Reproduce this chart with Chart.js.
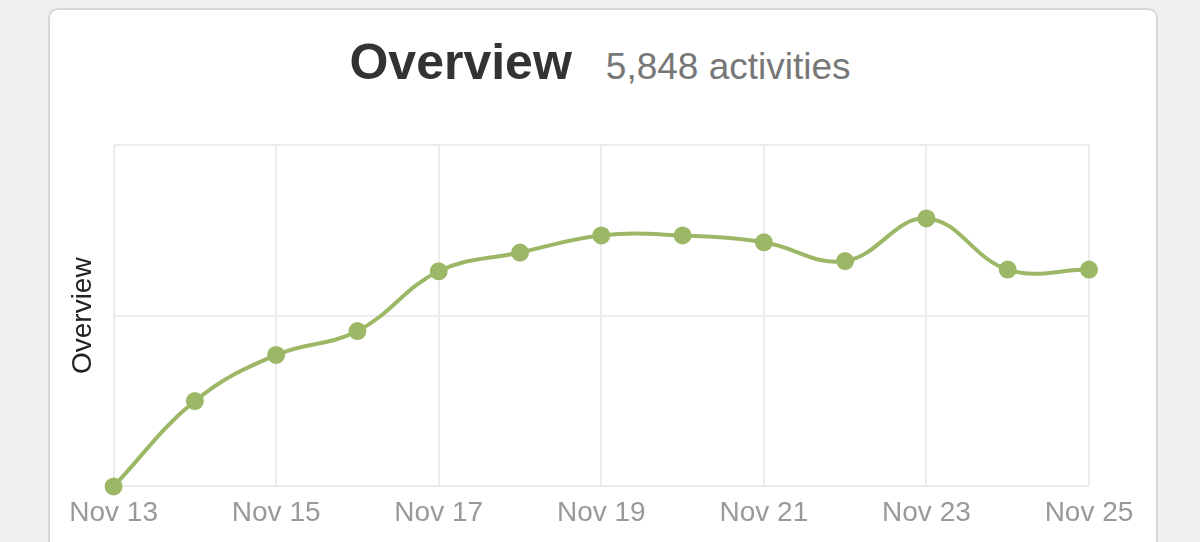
<!DOCTYPE html>
<html><head><meta charset="utf-8">
<script src="https://cdn.jsdelivr.net/npm/chart.js@4"></script>
<style>
body{margin:0;background:#efefef;font-family:"Liberation Sans",Arial,sans-serif;}
.card{position:absolute;left:48px;top:8px;width:1106px;height:560px;background:#fff;border:2px solid #d8d8d8;border-radius:10px;}
.title{position:absolute;left:0;top:33px;width:1200px;text-align:center;white-space:nowrap;}
.title b{font-size:50px;color:#333;margin-right:34px;}
.title span{font-size:37px;color:#777;}
#wrap{position:absolute;left:0;top:0;width:1200px;height:542px;}
</style></head><body>
<div class="card"></div>
<div class="title"><b>Overview</b><span>5,848 activities</span></div>
<div id="wrap"><canvas id="myChart"></canvas></div>
<script>
const days = ["Nov 13","Nov 14","Nov 15","Nov 16","Nov 17","Nov 18","Nov 19","Nov 20","Nov 21","Nov 22","Nov 23","Nov 24","Nov 25"];
const activity = [0,0.50,0.77,0.91,1.26,1.37,1.47,1.47,1.43,1.32,1.57,1.27,1.27];

const ctx = document.getElementById("myChart");
new Chart(ctx, {
  type: "line",
  data: {
    labels: days,
    datasets: [{
      data: activity,
      borderColor: "#9cb867",
      backgroundColor: "#9cb867",
      borderWidth: 4,
      pointRadius: 7,
      tension: 0.4,
      clip: false
    }]
  },
  options: {
    responsive: true,
    maintainAspectRatio: false,
    animation: false,
    layout: {padding: {left: 62, right: 111, top: 145, bottom: 2}},
    plugins: {legend: {display: false}, tooltip: {enabled: false}},
    scales: {
      x: {
        grid: {color: c => c.index % 2 === 0 ? "#ececec" : "rgba(0,0,0,0)", lineWidth: 2, drawTicks: false},
        border: {display: false},
        ticks: {autoSkip: false, maxRotation: 0, padding: 10, color: "#999", font: {size: 28},
          callback: (v, i) => i % 2 === 0 ? days[i] : ""}
      },
      y: {
        min: 0, max: 2,
        ticks: {stepSize: 1, display: false},
        grid: {color: "#ececec", lineWidth: 2, drawTicks: false},
        border: {display: false},
        title: {display: true, text: "Overview", color: "#222", font: {size: 28}, padding: {bottom: 14}}
      }
    }
  }
});
</script>
</body></html>
